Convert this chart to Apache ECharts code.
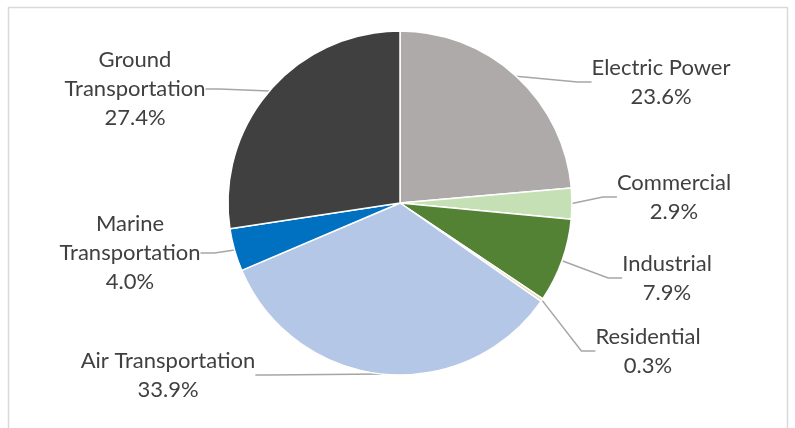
<!DOCTYPE html>
<html lang="en">
<head>
  <meta charset="UTF-8">
  <title>Emissions by sector</title>
  <style>
    html, body { margin: 0; padding: 0; background: #fff; }
    #main { width: 795px; height: 428px; }
  </style>
</head>
<body>
<div id="main"></div>
<script src="https://cdn.jsdelivr.net/npm/echarts@6/dist/echarts.min.js"></script>
<script>
  var categories = ['Electric Power', 'Commercial', 'Industrial', 'Residential',
    'Air Transportation', 'Marine Transportation', 'Ground Transportation'];
  var shares = [23.6, 2.9, 7.9, 0.3, 33.9, 4.0, 27.4];
  var colors = ['#aeaaaa', '#c5e0b4', '#548235', '#e6dcb4', '#b4c7e7', '#0070c0', '#404040'];

  // where each label block sits (centre of the text)
  var labelSpots = [[661, 82], [674, 197], [667, 278], [648, 351], [168, 375], [130, 253], [135, 89]];

  var chart = echarts.init(document.getElementById('main'));

  var option = {
    backgroundColor: '#fff',
    animation: false,
    graphic: [{
      type: 'rect',
      shape: { x: 8.5, y: 7.5, width: 779, height: 440 },
      style: { fill: 'none', stroke: '#d9d9d9', lineWidth: 1.5 },
      silent: true
    }],
    series: [{
      type: 'pie',
      center: [400, 203],
      radius: 172,
      startAngle: 90,
      clockwise: true,
      itemStyle: { borderColor: '#fff', borderWidth: 1.5 },
      label: {
        show: true,
        color: '#404040',
        fontFamily: 'Lato',
        fontSize: 22,
        lineHeight: 29,
        align: 'center',
        formatter: function (p) {
          var name = p.name.replace(/^(Ground|Marine) /, '$1\n');
          return name + '\n' + p.value.toFixed(1) + '%';
        }
      },
      labelLine: {
        show: true,
        length: 20,
        length2: 14,
        lineStyle: { color: '#a6a6a6', width: 1.5 }
      },
      labelLayout: function (params) {
        var s = labelSpots[params.dataIndex];
        return { x: s[0], y: s[1], align: 'center', verticalAlign: 'middle' };
      },
      data: categories.map(function (c, i) {
        return { name: c, value: shares[i], itemStyle: { color: colors[i] } };
      })
    }]
  };

  chart.setOption(option);
</script>
</body>
</html>
